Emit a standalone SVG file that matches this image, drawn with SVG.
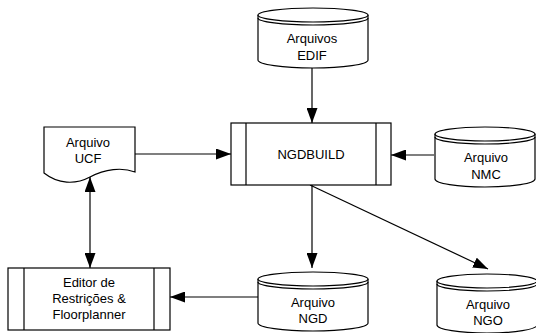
<svg xmlns="http://www.w3.org/2000/svg" width="536" height="333" viewBox="0 0 536 333">
<defs>
<marker id="ah" markerUnits="userSpaceOnUse" markerWidth="15" markerHeight="11" refX="15" refY="5.5" orient="auto-start-reverse">
<path d="M0,0 L15,5.5 L0,11 z" fill="#000"/>
</marker>
</defs>
<style>
.s{fill:#fff;stroke:#000;stroke-width:1.2}
.n{fill:none;stroke:#000;stroke-width:1.2}
.t{font-family:"Liberation Sans",Arial,sans-serif;font-size:13px;fill:#000;text-anchor:middle}
.c{fill:none;stroke:#000;stroke-width:1.2;marker-end:url(#ah)}
</style>
<rect width="536" height="333" fill="#fff"/>
<g id="connectors">
<path class="c" d="M312,68 V123"/>
<path class="c" d="M434,155 H391"/>
<path class="c" d="M135,154 H231"/>
<path class="c" d="M312,185 V268"/>
<path class="c" d="M310,185 L488,269"/>
<path class="c" d="M258,297 H170"/>
<path class="c" d="M90,177 V268" style="marker-start:url(#ah)"/>
</g>
<g id="edif">
<path class="s" d="M258,15 V60 A55,8 0 0 0 368,60 V15"/>
<ellipse class="s" cx="313" cy="15" rx="55" ry="7"/>
<path class="n" d="M258,18 A55,7 0 0 0 368,18"/>
<text class="t" x="312" y="43">Arquivos</text>
<text class="t" x="312" y="60">EDIF</text>
</g>
<g id="ngdbuild">
<rect class="s" x="231" y="123" width="160" height="62"/>
<path class="n" d="M246,123 V185 M376,123 V185"/>
<text class="t" x="311" y="159">NGDBUILD</text>
</g>
<g id="nmc">
<path class="s" d="M435,134 V179 A50,8 0 0 0 535,179 V134"/>
<ellipse class="s" cx="485" cy="134" rx="50" ry="7"/>
<path class="n" d="M435,137 A50,7 0 0 0 535,137"/>
<text class="t" x="486" y="162">Arquivo</text>
<text class="t" x="486" y="179">NMC</text>
</g>
<g id="ucf">
<path class="s" d="M44,127 H135 V172 C122,167 105,169 90,177 C75,185 58,184 44,173 Z"/>
<text class="t" x="88" y="147">Arquivo</text>
<text class="t" x="88" y="163">UCF</text>
</g>
<g id="editor">
<rect class="s" x="8" y="268" width="162" height="62"/>
<path class="n" d="M24,268 V330 M154,268 V330"/>
<text class="t" x="89" y="287">Editor de</text>
<text class="t" x="89" y="303">Restrições &amp;</text>
<text class="t" x="89" y="319">Floorplanner</text>
</g>
<g id="ngd">
<path class="s" d="M258,279 V323 A55,8 0 0 0 368,323 V279"/>
<ellipse class="s" cx="313" cy="279" rx="55" ry="7"/>
<path class="n" d="M258,282 A55,7 0 0 0 368,282"/>
<text class="t" x="313" y="307">Arquivo</text>
<text class="t" x="313" y="323">NGD</text>
</g>
<g id="ngo">
<path class="s" d="M437,281 V325 A50,8 0 0 0 537,325 V281"/>
<ellipse class="s" cx="487" cy="281" rx="50" ry="7"/>
<path class="n" d="M437,284 A50,7 0 0 0 537,284"/>
<text class="t" x="488" y="309">Arquivo</text>
<text class="t" x="488" y="325">NGO</text>
</g>
</svg>
